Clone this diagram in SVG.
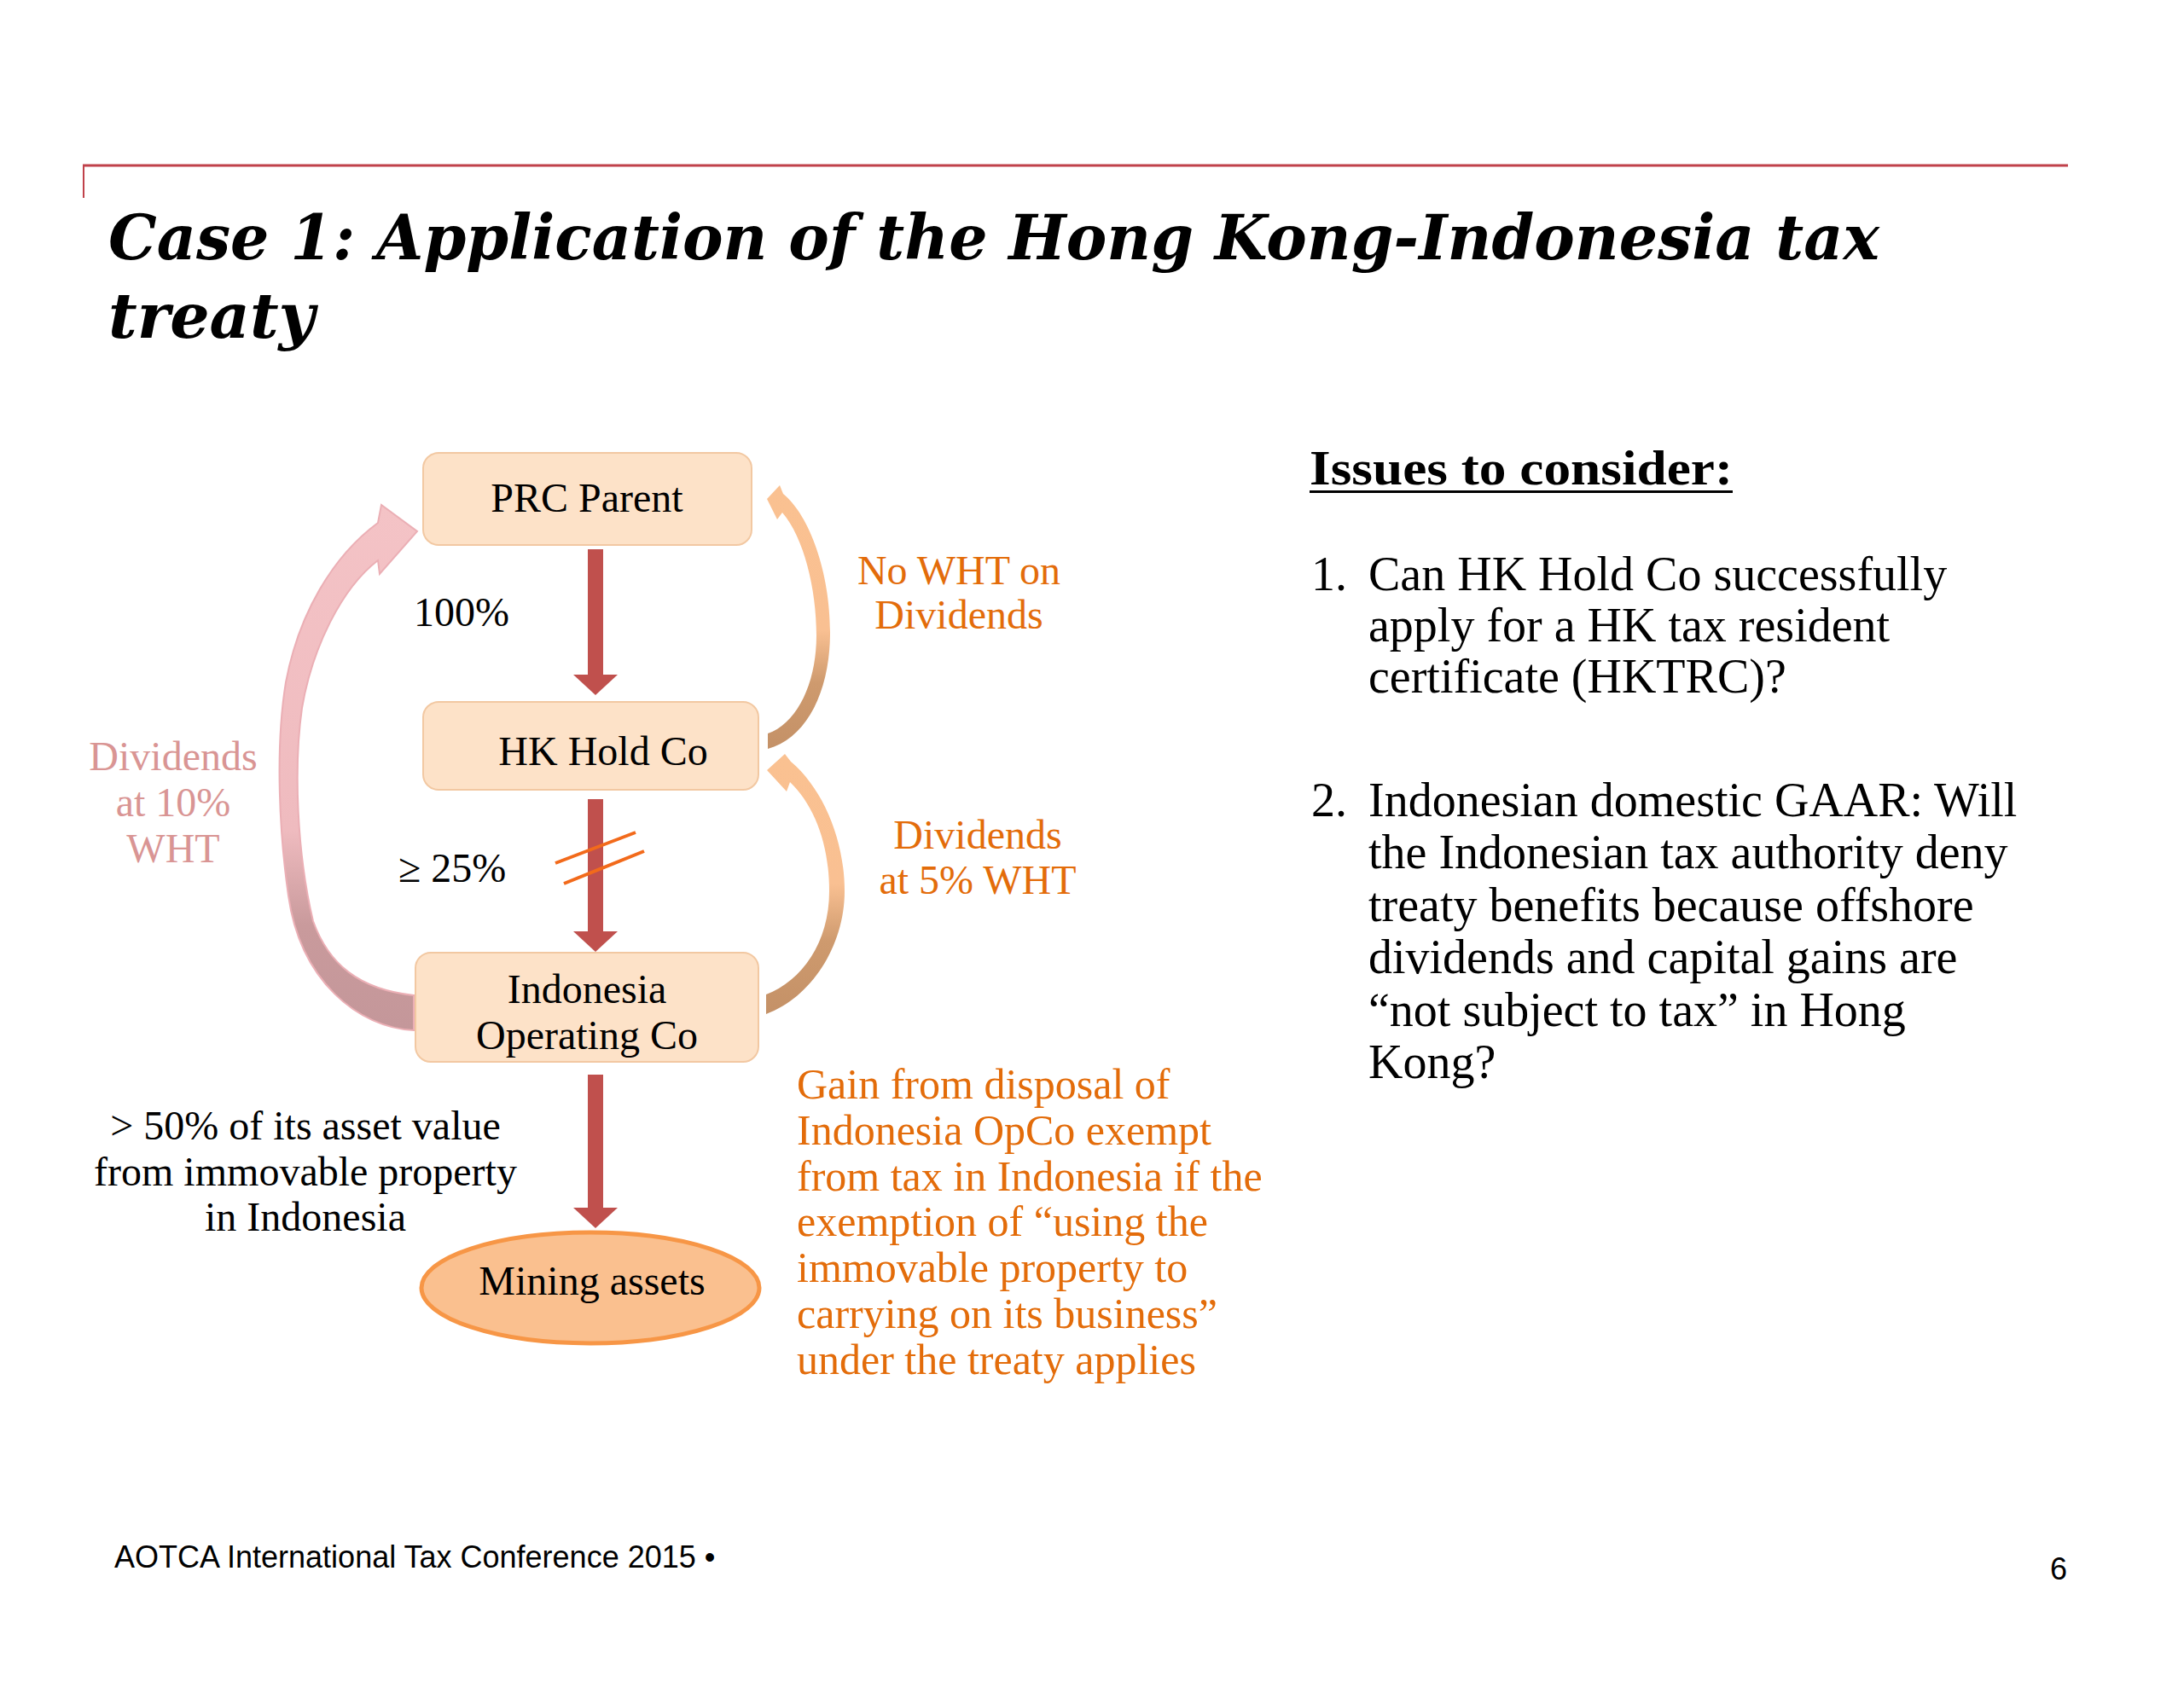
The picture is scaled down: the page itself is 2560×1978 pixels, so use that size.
<svg xmlns="http://www.w3.org/2000/svg" width="2560" height="1978" viewBox="0 0 2560 1978">
<defs>
<style>
.serif{font-family:"Liberation Serif","Times New Roman",serif;}
.node{font-family:"Liberation Serif","Times New Roman",serif;font-size:48px;fill:#000;text-anchor:middle;}
.lbl{font-family:"Liberation Serif","Times New Roman",serif;font-size:48px;}
.para{font-family:"Liberation Serif","Times New Roman",serif;font-size:50px;fill:#E36C0A;}
.orange{fill:#E36C0A;}
.pink{fill:#D99594;}
.box{fill:#FDE2C8;stroke:#F2C8A2;stroke-width:2;}
.own{fill:#C0504D;}
.issue{font-family:"Liberation Serif","Times New Roman",serif;font-size:56px;fill:#000;}
</style>
<linearGradient id="pinkGrad" x1="0" y1="0" x2="0" y2="1">
<stop offset="0" stop-color="#F4C3C6"/>
<stop offset="0.62" stop-color="#EFBBBF"/>
<stop offset="0.8" stop-color="#C99A9C"/>
<stop offset="1" stop-color="#C4979A"/>
</linearGradient>
<linearGradient id="orGrad1" x1="0" y1="0" x2="0" y2="1">
<stop offset="0" stop-color="#FAC191"/>
<stop offset="0.55" stop-color="#F9C092"/>
<stop offset="0.75" stop-color="#CE9A6E"/>
<stop offset="1" stop-color="#C49167"/>
</linearGradient>
<linearGradient id="orGrad2" x1="0" y1="0" x2="0" y2="1">
<stop offset="0" stop-color="#FAC191"/>
<stop offset="0.5" stop-color="#F9C092"/>
<stop offset="0.72" stop-color="#CE9A6E"/>
<stop offset="1" stop-color="#C49167"/>
</linearGradient>
</defs>
<rect width="2560" height="1978" fill="#FFFFFF"/>

<!-- header rule -->
<line x1="97" y1="194" x2="2424" y2="194" stroke="#C0414A" stroke-width="3"/>
<line x1="98" y1="194" x2="98" y2="232" stroke="#C0414A" stroke-width="2"/>

<!-- title -->
<text font-family="'DejaVu Serif','Liberation Serif',serif" font-weight="bold" font-style="italic" font-size="72" fill="#000">
<tspan x="127" y="304" textLength="2076" lengthAdjust="spacingAndGlyphs">Case 1: Application of the Hong Kong-Indonesia tax</tspan>
<tspan x="127" y="396" textLength="242" lengthAdjust="spacingAndGlyphs">treaty</tspan>
</text>

<!-- connectors -->
<g id="connectors">
<g id="own-prc-hk">
<rect class="own" x="689" y="644" width="18" height="148"/>
<polygon class="own" points="672,791 724,791 698,815"/>
</g>
<g id="own-hk-indo">
<rect class="own" x="689" y="937" width="18" height="156"/>
<polygon class="own" points="672,1092 724,1092 698,1116"/>
<line x1="651" y1="1012" x2="745" y2="976" stroke="#F26A1B" stroke-width="4"/>
<line x1="661" y1="1036" x2="755" y2="998" stroke="#F26A1B" stroke-width="4"/>
</g>
<g id="own-indo-mining">
<rect class="own" x="689" y="1260" width="18" height="157"/>
<polygon class="own" points="672,1416 724,1416 698,1440"/>
</g>
<g id="div-indo-prc">
<path d="M485,1208 C420,1205 352,1150 338,1050 C328,980 322,880 335,800 C350,720 390,652 443,613 L447,592 L489,623 L445,673 L443,657 C400,690 366,760 354,830 C344,900 348,1000 367,1080 C385,1130 420,1160 485,1167 Z" fill="url(#pinkGrad)" stroke="#EBAFB5" stroke-width="2"/>
</g>
<g id="div-hk-prc">
<path d="M918,579 C950,605 974,675 973,745 C972,812 945,866 900,878 L900,860 C935,848 957,800 957,745 C957,690 942,630 917,601 L911,609 L899,585 L914,569 Z" fill="url(#orGrad1)"/>
</g>
<g id="div-indo-hk">
<path d="M927,893 C965,925 990,985 990,1045 C990,1110 950,1170 898,1189 L898,1166 C940,1150 972,1105 972,1045 C972,990 955,945 926,917 L922,928 L899,903 L920,884 Z" fill="url(#orGrad2)"/>
</g>
</g>

<!-- nodes -->
<g id="prc-parent">
<rect class="box" x="496" y="531" width="385" height="108" rx="18"/>
<text class="node" x="688" y="600">PRC Parent</text>
</g>
<g id="hk-hold-co">
<rect class="box" x="496" y="823" width="393" height="103" rx="18"/>
<text class="node" x="707" y="897">HK Hold Co</text>
</g>
<g id="indonesia-opco">
<rect class="box" x="487" y="1117" width="402" height="128" rx="18"/>
<text class="node" x="688" y="1176">Indonesia</text>
<text class="node" x="688" y="1230">Operating Co</text>
</g>
<g id="mining-assets">
<ellipse cx="692" cy="1510" rx="198" ry="65" fill="#FAC08F" stroke="#F79646" stroke-width="5"/>
<text class="node" x="694" y="1518">Mining assets</text>
</g>

<!-- labels -->
<g id="labels">
<text class="lbl" x="485" y="734" fill="#000">100%</text>
<text class="lbl" x="467" y="1034" fill="#000">≥ 25%</text>
<text class="lbl pink" text-anchor="middle"><tspan x="203" y="903">Dividends</tspan><tspan x="203" y="957">at 10%</tspan><tspan x="203" y="1011">WHT</tspan></text>
<text class="lbl orange" text-anchor="middle"><tspan x="1124" y="685">No WHT on</tspan><tspan x="1124" y="737">Dividends</tspan></text>
<text class="lbl orange" text-anchor="middle"><tspan x="1146" y="995">Dividends</tspan><tspan x="1146" y="1048">at 5% WHT</tspan></text>
<text class="lbl" text-anchor="middle" fill="#000"><tspan x="358" y="1336">&gt; 50% of its asset value</tspan><tspan x="358" y="1390">from immovable property</tspan><tspan x="358" y="1443">in Indonesia</tspan></text>
<text class="para"><tspan x="934" y="1288">Gain from disposal of</tspan><tspan x="934" y="1342">Indonesia OpCo exempt</tspan><tspan x="934" y="1396">from tax in Indonesia if the</tspan><tspan x="934" y="1449">exemption of “using the</tspan><tspan x="934" y="1503">immovable property to</tspan><tspan x="934" y="1557">carrying on its business”</tspan><tspan x="934" y="1611">under the treaty applies</tspan></text>
</g>

<!-- issues -->
<g id="issues">
<text class="serif" x="1535" y="568" font-size="56" font-weight="bold" textLength="496" lengthAdjust="spacingAndGlyphs">Issues to consider:</text>
<rect x="1535" y="575" width="496" height="3" fill="#000"/>
<text class="issue" x="1537" y="692">1.</text>
<text class="issue"><tspan x="1604" y="692">Can HK Hold Co successfully</tspan><tspan x="1604" y="752">apply for a HK tax resident</tspan><tspan x="1604" y="812">certificate (HKTRC)?</tspan></text>
<text class="issue" x="1537" y="957">2.</text>
<text class="issue"><tspan x="1604" y="957">Indonesian domestic GAAR: Will</tspan><tspan x="1604" y="1018">the Indonesian tax authority deny</tspan><tspan x="1604" y="1080">treaty benefits because offshore</tspan><tspan x="1604" y="1141">dividends and capital gains are</tspan><tspan x="1604" y="1203">“not subject to tax” in Hong</tspan><tspan x="1604" y="1264">Kong?</tspan></text>
</g>

<!-- footer -->
<text font-family="'Liberation Sans',Arial,sans-serif" font-size="36" fill="#000" x="134" y="1838">AOTCA International Tax Conference 2015 •</text>
<text font-family="'Liberation Sans',Arial,sans-serif" font-size="36" fill="#000" x="2423" y="1852" text-anchor="end">6</text>
</svg>
